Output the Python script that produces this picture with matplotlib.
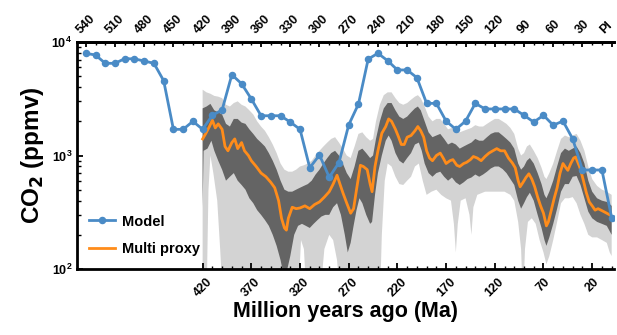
import numpy as np
import matplotlib
matplotlib.use("Agg")
import matplotlib.pyplot as plt
import matplotlib.transforms as mtransforms
from matplotlib.ticker import FixedLocator, NullFormatter

plt.rcParams['font.family'] = ['Liberation Sans', 'DejaVu Sans']
plt.rcParams['font.weight'] = 'bold'

# ---------------- data ----------------
model_age = [540, 530, 520, 510, 500, 490, 480, 470, 460, 450, 440, 430, 420, 410, 400,
             390, 380, 370, 360, 350, 340, 330, 320, 310, 300, 290, 280, 270, 260, 250,
             240, 230, 220, 210, 200, 190, 180, 170, 160, 150, 140, 130, 120, 110, 100,
             90, 80, 70, 60, 50, 40, 30, 20, 10, 0]
model_co2 = [7950, 7680, 6490, 6490, 7130, 7100, 6800, 6490, 4560, 1700, 1700, 2000, 1700, 2260, 2520,
             5150, 4290, 3150, 2240, 2240, 2240, 1970, 1700, 780, 1010, 643, 865, 1860, 2840, 7080,
             7950, 6840, 5670, 5670, 4850, 2880, 2880, 2010, 1700, 2010, 2880, 2570, 2570, 2570, 2570,
             2260, 1970, 2260, 1850, 2010, 1400, 745, 745, 745, 283]

proxy_age = [420, 417, 413, 410, 407, 404, 400, 397, 394, 390, 387, 384, 380, 377, 373, 370, 365, 360,
             355, 350, 346, 342, 339, 336, 334, 332, 328, 324, 320, 315, 310, 305, 300, 295, 290, 286,
             282, 279, 276, 272, 268, 265, 262, 258, 255, 251, 248, 246, 243, 240, 236, 232, 229, 226,
             222, 219, 216, 213, 210, 206, 202, 199, 196, 193, 190, 187, 184, 180, 176, 173, 170, 166,
             163, 159, 156, 152, 149, 145, 142, 138, 134, 130, 126, 122, 118, 114, 110, 106, 102, 99,
             96, 94, 91, 88, 85, 82, 79, 76, 73, 70, 67, 65, 62, 59, 56, 53, 50, 47, 45, 42, 39, 37,
             35, 33, 31, 29, 26, 23, 20, 17, 14, 11, 8, 5, 2, 0]
proxy_co2 = [1400, 1550, 1800, 2050, 1750, 1900, 1700, 1200, 1100, 1300, 1400, 1150, 1300, 1100, 1000,
             900, 800, 700, 650, 580, 520, 400, 280, 230, 220, 280, 350, 340, 345, 360, 340, 370, 390,
             430, 480, 560, 670, 560, 470, 380, 310, 340, 500, 820, 800, 750, 560, 480, 800, 1100, 1570,
             1800, 2100, 2000, 1700, 1470, 1250, 1250, 1450, 1500, 1650, 1800, 1650, 1450, 1100, 950,
             900, 1000, 1050, 950, 850, 900, 920, 820, 800, 850, 870, 920, 980, 950, 900, 980, 1050,
             1100, 1150, 1100, 1100, 950, 860, 780, 600, 530, 580, 640, 690, 620, 530, 430, 360, 310,
             240, 260, 330, 420, 520, 700, 850, 780, 740, 850, 950, 970, 880, 800, 700, 600, 470, 390,
             360, 330, 340, 330, 320, 310, 300, 290]

band_age = [420, 416, 412, 408, 404, 400, 396, 392, 388, 384, 380, 376, 372, 368, 364, 360, 356, 352,
            348, 344, 340, 336, 332, 328, 324, 320, 316, 312, 308, 304, 300, 296, 292, 288, 284, 280,
            276, 272, 268, 264, 260, 256, 252, 248, 245, 242, 238, 234, 230, 226, 222, 218, 214, 210,
            206, 202, 199, 196, 192, 188, 184, 180, 176, 172, 168, 164, 160, 156, 152, 148, 144, 140,
            136, 132, 128, 124, 120, 116, 112, 108, 104, 100, 96, 93, 90, 87, 84, 80, 76, 72, 69, 67,
            64, 60, 56, 52, 48, 44, 40, 36, 32, 28, 24, 20, 15, 10, 5, 0]
dark_hi = [2600, 2700, 2850, 2500, 2400, 2300, 1900, 1800, 2100, 2100, 1950, 1900, 1700, 1550, 1400,
           1300, 1200, 1050, 900, 750, 600, 500, 480, 480, 500, 520, 540, 560, 600, 680, 750, 850, 950,
           1050, 1100, 1000, 850, 700, 620, 800, 1100, 1150, 1050, 950, 1000, 1400, 2000, 2600, 2900,
           2900, 2500, 2200, 2100, 2200, 2400, 2600, 2700, 2500, 2000, 1600, 1450, 1500, 1550, 1400,
           1250, 1300, 1250, 1150, 1200, 1250, 1300, 1400, 1350, 1350, 1450, 1550, 1600, 1600, 1500,
           1400, 1300, 1150, 850, 750, 800, 900, 950, 850, 700, 560, 450, 420, 480, 600, 800, 1050,
           1150, 1100, 1150, 1200, 1050, 850, 600, 480, 420, 400, 390, 360]
light_hi = [3800, 3600, 3500, 3350, 3300, 3200, 2800, 2700, 2900, 3000, 2800, 2700, 2500, 2300, 2000,
            1800, 1650, 1450, 1250, 1050, 850, 750, 720, 720, 750, 800, 820, 850, 900, 1000, 1100, 1200,
            1300, 1400, 1450, 1300, 1150, 1000, 950, 1200, 1550, 1600, 1450, 1350, 1400, 2000, 2800,
            3400, 3600, 3600, 3200, 2900, 2800, 2900, 3100, 3300, 3400, 3200, 2700, 2200, 2000, 2100,
            2100, 1900, 1700, 1750, 1700, 1600, 1650, 1700, 1750, 1850, 1800, 1800, 1900, 2000, 2100,
            2100, 2000, 1900, 1750, 1550, 1150, 1000, 1050, 1200, 1250, 1100, 950, 780, 650, 620, 700,
            850, 1100, 1400, 1500, 1450, 1500, 1550, 1350, 1100, 800, 620, 540, 500, 480, 450]

dark_lo_age = [420, 419, 415, 411, 408, 404, 400, 396, 392, 388, 384, 380, 376, 372, 368, 364, 360, 356,
               352, 348, 344, 340, 337, 333, 330, 326, 322, 318, 314, 310, 306, 302, 298, 294, 290, 286,
               282, 278, 274, 271, 268, 265, 262, 259, 256, 252, 248, 246, 243, 240, 236, 232, 229, 226,
               222, 218, 214, 210, 206, 202, 198, 195, 192, 188, 184, 180, 176, 172, 168, 164, 160, 156,
               152, 148, 144, 140, 136, 132, 128, 124, 120, 116, 112, 108, 104, 100, 96, 93, 90, 87, 84,
               80, 76, 72, 69, 67, 64, 60, 56, 52, 48, 44, 40, 36, 32, 28, 24, 20, 15, 10, 5, 0]
dark_lo = [350, 1100, 1150, 1350, 1100, 900, 750, 600, 650, 700, 600, 550, 500, 420, 380, 330, 300, 270,
           240, 200, 160, 120, 90, 100, 130, 200, 240, 250, 240, 230, 250, 270, 290, 300, 300, 350, 380,
           300, 200, 140, 170, 240, 330, 420, 380, 300, 250, 260, 450, 700, 1000, 1350, 1500, 1350, 1050,
           900, 850, 950, 1050, 1250, 1300, 1100, 850, 700, 650, 700, 720, 650, 600, 640, 580, 550, 580,
           620, 640, 680, 650, 680, 720, 770, 800, 800, 760, 700, 620, 550, 400, 340, 380, 430, 470, 400,
           300, 230, 180, 160, 190, 250, 340, 480, 560, 560, 650, 660, 550, 420, 320, 280, 260, 250, 240,
           200]

light_lo_age = [420, 416, 414, 412, 409, 405, 402, 399, 322, 319, 316, 313, 300, 295, 290, 286, 282,
                278, 238, 236, 233, 230, 226, 222, 218, 214, 210, 206, 202, 198, 194, 190, 185, 180,
                175, 170, 165, 162, 160, 158, 155, 150, 146, 144, 142, 138, 130, 120, 110, 104, 100,
                96, 93, 91, 89, 86, 82, 78, 74, 70, 67, 64, 60, 56, 52, 48, 44, 40, 36, 32, 28, 24, 20,
                15, 10, 5, 2, 0]
light_lo = [50, 50, 500, 1000, 700, 400, 150, 50, 50, 180, 150, 50, 50, 150, 200, 180, 120, 50, 50, 200,
            600, 850, 800, 650, 560, 550, 600, 650, 800, 850, 600, 450, 480, 500, 450, 420, 400, 250,
            140, 250, 400, 420, 300, 200, 350, 450, 480, 480, 480, 450, 400, 260, 150, 50, 150, 260,
            280, 250, 180, 140, 110, 130, 180, 260, 380, 420, 420, 430, 380, 300, 250, 200, 190, 190,
            180, 170, 140, 130]

top_ticks = [540, 510, 480, 450, 420, 390, 360, 330, 300, 270, 240, 210, 180, 150, 120, 90, 60, 30, 0]
top_labels = ['540', '510', '480', '450', '420', '390', '360', '330', '300', '270', '240', '210',
              '180', '150', '120', '90', '60', '30', 'PI']
bottom_ticks = [420, 370, 320, 270, 220, 170, 120, 70, 20]

# ---------------- figure ----------------
fig = plt.figure(figsize=(6.17, 3.35), dpi=100)
ax = fig.add_axes([77 / 617, (335 - 269) / 335, 537 / 617, 227 / 335])

ax.fill(np.concatenate([band_age, light_lo_age[::-1]]),
        np.concatenate([light_hi, light_lo[::-1]]), color='#d3d3d3', lw=0, zorder=1)
ax.fill(np.concatenate([band_age, dark_lo_age[::-1]]),
        np.concatenate([dark_hi, dark_lo[::-1]]), color='#646464', lw=0, zorder=2)
ax.plot(proxy_age, proxy_co2, color='#ff8c1a', lw=2.0, zorder=3, label='Multi proxy')
ax.plot(model_age, model_co2, color='#4a8bc6', lw=2.0, marker='o', ms=4.4, zorder=4, label='Model')

ax.set_yscale('log')
ax.set_ylim(100, 10000)
ax.set_xlim(549, -2.4)

ax.spines['right'].set_visible(False)
for s in ['left', 'bottom', 'top']:
    ax.spines[s].set_linewidth(2.0)

# bottom axis
ax.xaxis.set_major_locator(FixedLocator(bottom_ticks))
ax.xaxis.set_minor_locator(FixedLocator(list(range(420, -1, -10))))
ax.set_xticklabels([str(t) for t in bottom_ticks], rotation=45, ha='center', fontsize=9,
                   fontweight='bold')
ax.tick_params(axis='x', which='major', direction='in', length=4, width=1.3, pad=5)
ax.tick_params(axis='x', which='minor', direction='in', length=2.5, width=1.0)
ax.tick_params(axis='y', which='major', direction='in', length=4, width=1.3, labelsize=9)
ax.tick_params(axis='y', which='minor', direction='in', length=3, width=1.0)
ax.yaxis.set_minor_formatter(NullFormatter())
for lab in ax.get_yticklabels():
    lab.set_fontweight('bold')

# top axis
axt = ax.twiny()
axt.set_xlim(ax.get_xlim())
axt.xaxis.set_major_locator(FixedLocator(top_ticks))
axt.xaxis.set_minor_locator(FixedLocator(list(range(540, -1, -10))))
axt.set_xticklabels(top_labels, rotation=45, ha='center', fontsize=9, fontweight='bold')
axt.tick_params(axis='x', which='major', direction='in', length=3.5, width=1.3, pad=4)
axt.tick_params(axis='x', which='minor', direction='in', length=2.5, width=1.0)
for s in ['right', 'left', 'bottom']:
    axt.spines[s].set_visible(False)
axt.spines['top'].set_linewidth(2.0)
# nudge the last ("PI") label slightly left so it stays inside the figure
pi_lab = axt.get_xticklabels()[-1]
pi_lab.set_transform(pi_lab.get_transform() +
                     mtransforms.ScaledTranslation(-5 / 100, 0, fig.dpi_scale_trans))

ax.set_xlabel('Million years ago (Ma)', fontsize=15.5, fontweight='bold', labelpad=1)
ax.set_ylabel('CO$_2$ (ppmv)', fontsize=17.5, fontweight='bold', labelpad=4)

h, l = ax.get_legend_handles_labels()
leg = ax.legend(h[::-1], l[::-1], loc='lower left', bbox_to_anchor=(-0.008, -0.015), frameon=False,
                prop={'weight': 'bold', 'size': 10.5}, handlelength=1.8, labelspacing=0.95,
                handletextpad=0.45, borderpad=0.6)

fig.savefig('out.png', dpi=100)
